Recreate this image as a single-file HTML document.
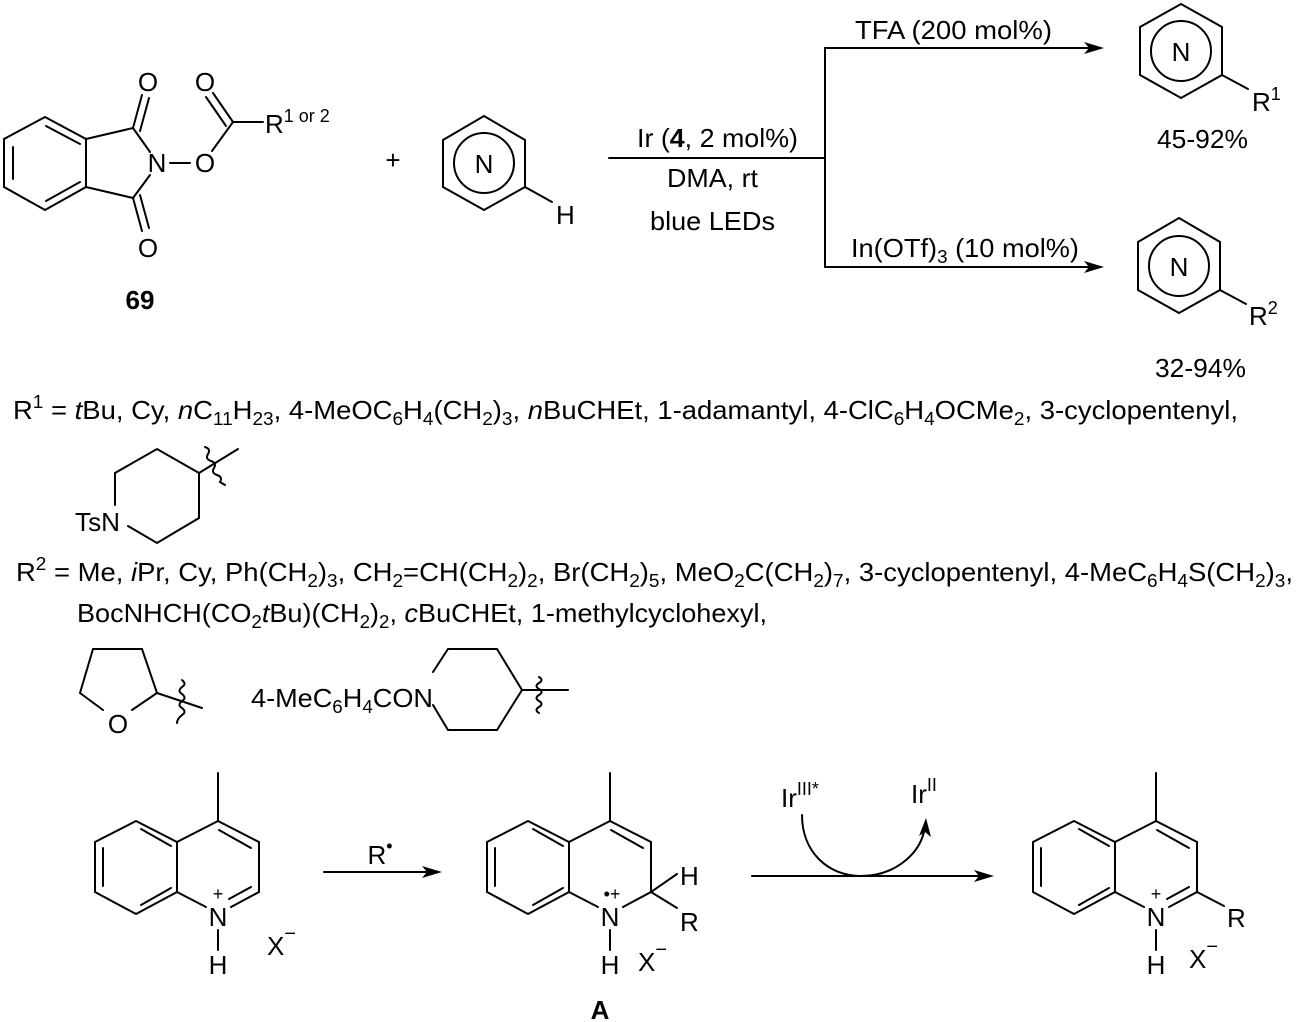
<!DOCTYPE html>
<html><head><meta charset="utf-8"><style>
html,body{margin:0;padding:0;background:#fff}
svg{display:block}
text{font-family:"Liberation Sans",Arial,sans-serif;fill:#000}
.l{font-size:26px}
.m{text-anchor:middle}
</style></head><body>
<svg width="1300" height="1022" viewBox="0 0 1300 1022" xmlns="http://www.w3.org/2000/svg">
<g stroke="#000" stroke-width="2" fill="none" stroke-linecap="round">
<polygon points="45,117 86,139 86,187 45,210 4,187 4,139"/>
<line x1="13" y1="147" x2="13" y2="179"/>
<line x1="46" y1="126" x2="80" y2="144"/>
<line x1="46" y1="201" x2="80" y2="182"/>
<line x1="86" y1="139" x2="133" y2="128"/>
<line x1="86" y1="187" x2="133" y2="198"/>
<line x1="133" y1="128" x2="150" y2="152"/>
<line x1="133" y1="198" x2="150" y2="175"/>
<line x1="133" y1="128" x2="142" y2="95"/>
<line x1="140" y1="131" x2="149" y2="98"/>
<line x1="133" y1="198" x2="142" y2="231"/>
<line x1="140" y1="195" x2="149" y2="228"/>
<line x1="170" y1="163" x2="190" y2="163"/>
<line x1="212" y1="151" x2="233" y2="122"/>
<line x1="233" y1="122" x2="263" y2="122"/>
<line x1="233" y1="122" x2="213" y2="93"/>
<line x1="226" y1="126" x2="206" y2="97"/>
<polygon points="484,116 525,140 525,187 484,210 443,187 443,140"/>
<circle cx="484" cy="163" r="30"/>
<line x1="525" y1="187" x2="552" y2="202"/>
<line x1="609" y1="158" x2="825" y2="158"/>
<line x1="825" y1="48" x2="825" y2="267"/>
<line x1="825" y1="48" x2="1090" y2="48"/>
<line x1="825" y1="267" x2="1090" y2="267"/>
<polygon points="1181,4 1222,27 1222,75 1181,98 1140,75 1140,27"/>
<circle cx="1181" cy="51" r="30"/>
<line x1="1222" y1="75" x2="1248" y2="89"/>
<polygon points="1179,218 1220,242 1220,290 1179,313 1138,290 1138,242"/>
<circle cx="1179" cy="266" r="30"/>
<line x1="1220" y1="290" x2="1246" y2="304"/>
<polyline points="115,505 115,473 157,449 199,473 199,518 157,543 128,526"/>
<line x1="199" y1="473" x2="238" y2="449"/>
<path d="M205,447 q6,2 3,7 q-3,5 3,7 q6,2 3,7 q-3,5 3,7 q6,2 3,7 l5,3"/>
<polyline points="132,710 157,693 142,649 93,649 80,693 103,710"/>
<line x1="157" y1="693" x2="202" y2="708"/>
<path d="M182,680 q5,4 0,7 q-5,4 0,7 q5,4 0,7 q-5,4 0,7 q5,4 0,7 q-5,4 -5,8"/>
<polyline points="433,672 448,649 497,649 522,690 497,730 448,730 433,705"/>
<line x1="522" y1="690" x2="568" y2="690"/>
<path d="M539,677 q5,3 0,6 q-5,3 0,6 q5,3 0,6 q-5,3 0,6 q5,3 0,6 q-5,3 0,6"/>
</g>
<defs>
<g id="q" stroke="#000" stroke-width="2" fill="none" stroke-linecap="round">
<line x1="218" y1="773" x2="218" y2="821"/>
<polyline points="177,842 136,821 95,842 95,892 136,914 177,892 177,842 218,821 259,842 259,892"/>
<line x1="177" y1="892" x2="206" y2="907"/>
<line x1="218" y1="930" x2="218" y2="950"/>
<line x1="141" y1="829" x2="171" y2="846"/>
<line x1="103" y1="848" x2="103" y2="886"/>
<line x1="141" y1="905" x2="171" y2="888"/>
<line x1="219" y1="830" x2="251" y2="848"/>
</g>
</defs>
<use href="#q"/>
<g stroke="#000" stroke-width="2" fill="none" stroke-linecap="round">
<line x1="259" y1="892" x2="231" y2="907"/>
<line x1="251" y1="887" x2="229" y2="899"/>
</g>
<use href="#q" transform="translate(392,0)"/>
<g stroke="#000" stroke-width="2" fill="none" stroke-linecap="round">
<line x1="651" y1="892" x2="623" y2="907"/>
<line x1="651" y1="892" x2="677" y2="874"/>
<line x1="651" y1="892" x2="677" y2="908"/>
</g>
<use href="#q" transform="translate(938,0)"/>
<g stroke="#000" stroke-width="2" fill="none" stroke-linecap="round">
<line x1="1197" y1="892" x2="1169" y2="907"/>
<line x1="1189" y1="887" x2="1167" y2="899"/>
<line x1="1197" y1="892" x2="1224" y2="906"/>
<line x1="324" y1="872" x2="430" y2="872"/>
<line x1="752" y1="876" x2="980" y2="876"/>
<path d="M802,815 C802,852 828,876 861,876 C893,876 918,856 924,832"/>
</g>
<g fill="#000">
<polygon points="1104,48 1084,42 1089,48 1084,54"/>
<polygon points="1104,267 1084,261 1089,267 1084,273"/>
<polygon points="442,872 422,866 427,872 422,878"/>
<polygon points="994,876 974,870 979,876 974,882"/>
<polygon points="926,818 919,836 925,832 931,837"/>
</g>
<text class="l m" x="148" y="91">O</text>
<text class="l m" x="205" y="91">O</text>
<text class="l m" x="157" y="172">N</text>
<text class="l m" x="205" y="172">O</text>
<text class="l m" x="148" y="257">O</text>
<text class="l" x="265" y="133">R<tspan font-size="18" dy="-11">1 or 2</tspan></text>
<text class="l m" x="140" y="309" font-weight="bold">69</text>
<text class="l m" x="393" y="169">+</text>
<text class="l m" x="484" y="173">N</text>
<text class="l" x="556" y="224">H</text>
<text class="l" x="637" y="147" textLength="161" lengthAdjust="spacingAndGlyphs">Ir (<tspan font-weight="bold">4</tspan>, 2 mol%)</text>
<text class="l" x="667" y="187" textLength="91" lengthAdjust="spacingAndGlyphs">DMA, rt</text>
<text class="l" x="650" y="230" textLength="125" lengthAdjust="spacingAndGlyphs">blue LEDs</text>
<text class="l" x="855" y="39" textLength="197" lengthAdjust="spacingAndGlyphs">TFA (200 mol%)</text>
<text class="l" x="851" y="257" textLength="228" lengthAdjust="spacingAndGlyphs">In(OTf)<tspan font-size="18" dy="6">3</tspan><tspan dy="-6"> (10 mol%)</tspan></text>
<text class="l m" x="1181" y="61">N</text>
<text class="l" x="1252" y="111">R<tspan font-size="18" dy="-11">1</tspan></text>
<text class="l" x="1157" y="148" textLength="91" lengthAdjust="spacingAndGlyphs">45-92%</text>
<text class="l m" x="1179" y="276">N</text>
<text class="l" x="1249" y="325">R<tspan font-size="18" dy="-11">2</tspan></text>
<text class="l" x="1155" y="377" textLength="91" lengthAdjust="spacingAndGlyphs">32-94%</text>
<text class="l" x="13" y="419" textLength="1225" lengthAdjust="spacingAndGlyphs">R<tspan font-size="18" dy="-11">1</tspan><tspan dy="11"> = </tspan><tspan font-style="italic">t</tspan>Bu, Cy, <tspan font-style="italic">n</tspan>C<tspan font-size="18" dy="6">11</tspan><tspan dy="-6">H</tspan><tspan font-size="18" dy="6">23</tspan><tspan dy="-6">, 4-MeOC</tspan><tspan font-size="18" dy="6">6</tspan><tspan dy="-6">H</tspan><tspan font-size="18" dy="6">4</tspan><tspan dy="-6">(CH</tspan><tspan font-size="18" dy="6">2</tspan><tspan dy="-6">)</tspan><tspan font-size="18" dy="6">3</tspan><tspan dy="-6">, </tspan><tspan font-style="italic">n</tspan>BuCHEt, 1-adamantyl, 4-ClC<tspan font-size="18" dy="6">6</tspan><tspan dy="-6">H</tspan><tspan font-size="18" dy="6">4</tspan><tspan dy="-6">OCMe</tspan><tspan font-size="18" dy="6">2</tspan><tspan dy="-6">, 3-cyclopentenyl,</tspan></text>
<text class="l" x="75" y="531" textLength="45" lengthAdjust="spacingAndGlyphs">TsN</text>
<text class="l" x="16" y="581" textLength="1277" lengthAdjust="spacingAndGlyphs">R<tspan font-size="18" dy="-11">2</tspan><tspan dy="11"> = Me, </tspan><tspan font-style="italic">i</tspan>Pr, Cy, Ph(CH<tspan font-size="18" dy="6">2</tspan><tspan dy="-6">)</tspan><tspan font-size="18" dy="6">3</tspan><tspan dy="-6">, CH</tspan><tspan font-size="18" dy="6">2</tspan><tspan dy="-6">=CH(CH</tspan><tspan font-size="18" dy="6">2</tspan><tspan dy="-6">)</tspan><tspan font-size="18" dy="6">2</tspan><tspan dy="-6">, Br(CH</tspan><tspan font-size="18" dy="6">2</tspan><tspan dy="-6">)</tspan><tspan font-size="18" dy="6">5</tspan><tspan dy="-6">, MeO</tspan><tspan font-size="18" dy="6">2</tspan><tspan dy="-6">C(CH</tspan><tspan font-size="18" dy="6">2</tspan><tspan dy="-6">)</tspan><tspan font-size="18" dy="6">7</tspan><tspan dy="-6">, 3-cyclopentenyl, 4-MeC</tspan><tspan font-size="18" dy="6">6</tspan><tspan dy="-6">H</tspan><tspan font-size="18" dy="6">4</tspan><tspan dy="-6">S(CH</tspan><tspan font-size="18" dy="6">2</tspan><tspan dy="-6">)</tspan><tspan font-size="18" dy="6">3</tspan><tspan dy="-6">,</tspan></text>
<text class="l" x="77" y="622" textLength="690" lengthAdjust="spacingAndGlyphs">BocNHCH(CO<tspan font-size="18" dy="6">2</tspan><tspan dy="-6" font-style="italic">t</tspan>Bu)(CH<tspan font-size="18" dy="6">2</tspan><tspan dy="-6">)</tspan><tspan font-size="18" dy="6">2</tspan><tspan dy="-6">, </tspan><tspan font-style="italic">c</tspan>BuCHEt, 1-methylcyclohexyl,</text>
<text class="l m" x="118" y="733">O</text>
<text class="l" x="251" y="707" textLength="182" lengthAdjust="spacingAndGlyphs">4-MeC<tspan font-size="18" dy="6">6</tspan><tspan dy="-6">H</tspan><tspan font-size="18" dy="6">4</tspan><tspan dy="-6">CON</tspan></text>
<text class="m" x="218" y="900" font-size="18">+</text>
<text class="l m" x="218" y="926">N</text>
<text class="l m" x="218" y="974">H</text>
<text class="l" x="267" y="955">X<tspan font-size="20" dy="-15">−</tspan></text>
<text class="l m" x="380" y="864">R<tspan font-size="18" dy="-12">•</tspan></text>
<text class="m" x="612" y="900" font-size="18">•+</text>
<text class="l m" x="610" y="926">N</text>
<text class="l m" x="610" y="974">H</text>
<text class="l" x="680" y="885">H</text>
<text class="l" x="680" y="931">R</text>
<text class="l" x="638" y="971">X<tspan font-size="20" dy="-15">−</tspan></text>
<text class="l m" x="600" y="1019" font-weight="bold">A</text>
<text class="l" x="781" y="807">Ir<tspan font-size="18" dy="-12">III*</tspan></text>
<text class="l" x="911" y="803">Ir<tspan font-size="18" dy="-12">II</tspan></text>
<text class="m" x="1156" y="900" font-size="18">+</text>
<text class="l m" x="1156" y="926">N</text>
<text class="l m" x="1156" y="974">H</text>
<text class="l" x="1227" y="927">R</text>
<text class="l" x="1189" y="968">X<tspan font-size="20" dy="-15">−</tspan></text>
</svg>
</body></html>
